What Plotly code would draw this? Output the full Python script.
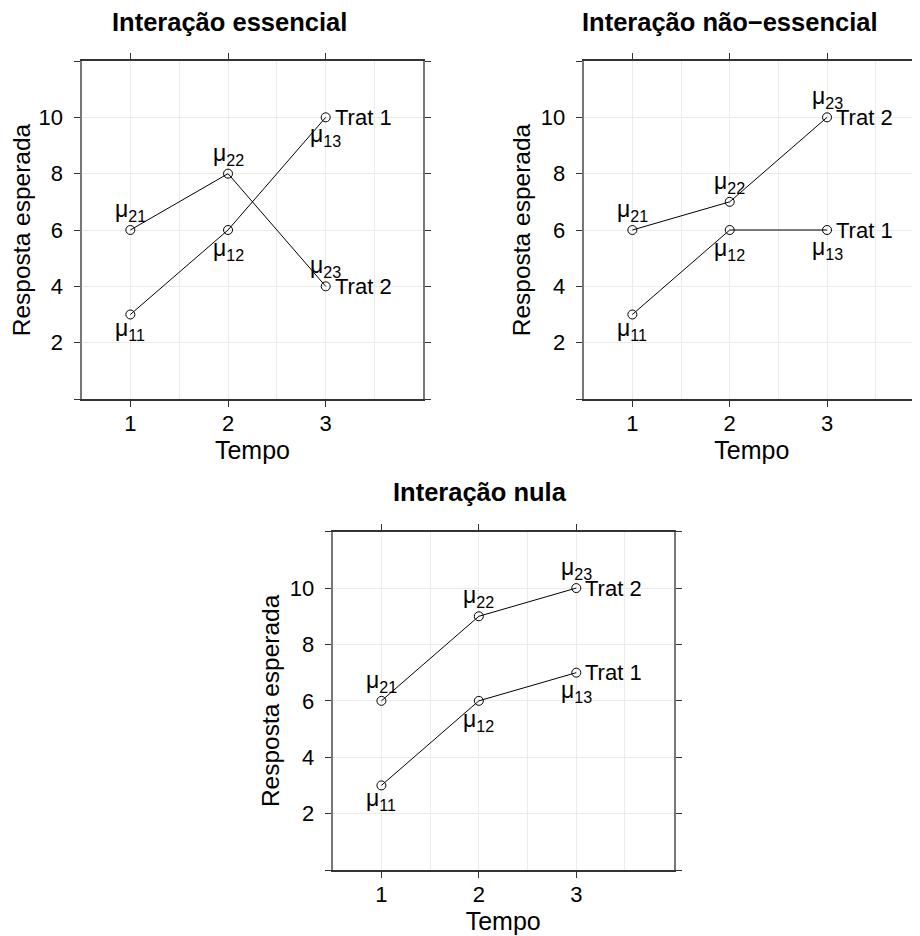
import plotly.graph_objects as go

OFF = 8            # the page body adds an 8px margin
W, H = 920 - OFF, 936 - OFF

tempo = [1, 2, 3]
panel_titles = ["Interação essencial", "Interação não−essencial", "Interação nula"]
trat1_vals = [
    [3, 6, 10],   # essencial
    [3, 6, 6],    # não-essencial
    [3, 6, 7],    # nula
]
trat2_vals = [
    [6, 8, 4],
    [6, 7, 10],
    [6, 9, 10],
]
y_tickvals = [0, 2, 4, 6, 8, 10, 12]
y_ticktext = ["", "2", "4", "6", "8", "10", ""]
x_tickvals = [1, 2, 3]
x_ticktext = ["1", "2", "3"]
x_minor_grid = [1.5, 2.5, 3.5]
x_label = "Tempo"
y_label = "Resposta esperada"
trat_names = ["Trat 1", "Trat 2"]

# panel boxes in page pixels: (left, right, top, bottom), x range
boxes = [
    (81.5, 423.4, 61, 399, [0.5, 4.0]),
    (583.7, 920, 61, 399, [0.5, 3.955]),
    (332.7, 673.7, 531.7, 870, [0.5, 4.0]),
]
title_pos = [(229, 22), (730, 22), (480, 492)]
# vertical pixel shifts of the mu labels (below labels for Trat 1, above for Trat 2)
below_shift = [2, -3, -2]
above_shift = [3, 3, 3]

FONT = "Liberation Sans, Arial, Helvetica, sans-serif"
GRID = "#ebebeb"


def px_x(v):
    return (v - OFF) / W


def px_y(v):
    return 1 - (v - OFF) / H


fig = go.Figure()
annotations = []

for i in range(3):
    l, r, t, b, xr = boxes[i]
    sfx = "" if i == 0 else str(i + 1)
    xa = "x" + sfx
    ya = "y" + sfx
    for k, vals in enumerate([trat1_vals[i], trat2_vals[i]]):
        fig.add_trace(go.Scatter(
            x=tempo, y=vals, mode="lines+markers", xaxis=xa, yaxis=ya,
            line=dict(color="black", width=1),
            marker=dict(symbol="circle-open", size=9, color="black",
                        line=dict(width=1, color="black")),
            showlegend=False, hoverinfo="skip",
        ))
        for j, (tx, vy) in enumerate(zip(tempo, vals)):
            above = (k == 1)
            annotations.append(dict(
                x=tx, y=vy, xref=xa, yref=ya, showarrow=False,
                text=f"μ<sub>{k + 1}{j + 1}</sub>",
                font=dict(family=FONT, size=23, color="black"),
                xanchor="center", yanchor="bottom" if above else "top",
                yshift=above_shift[j] if above else below_shift[j],
            ))
        annotations.append(dict(
            x=tempo[-1], y=vals[-1], xref=xa, yref=ya, showarrow=False,
            text=trat_names[k], font=dict(family=FONT, size=22, color="black"),
            xanchor="left", yanchor="middle", xshift=7,
        ))
    # title
    tx, ty = title_pos[i]
    annotations.append(dict(
        x=px_x(tx), y=px_y(ty), xref="paper", yref="paper", showarrow=False,
        text=f"<b>{panel_titles[i]}</b>",
        font=dict(family=FONT, size=25.5, color="black"),
        xanchor="center", yanchor="middle",
    ))

    xaxis = dict(
        domain=[px_x(l), min(px_x(r), 1.0)], range=xr, anchor=ya,
        tickmode="array", tickvals=x_tickvals, ticktext=x_ticktext,
        ticks="outside", ticklen=6, tickwidth=1, tickcolor="#333333",
        showline=True, linecolor="#333333", linewidth=1.5, mirror="ticks",
        showgrid=True, gridcolor=GRID, gridwidth=1, zeroline=False,
        minor=dict(tickvals=x_minor_grid, showgrid=True, gridcolor=GRID,
                   gridwidth=1, ticks=""),
        tickfont=dict(family=FONT, size=22, color="black"),
        title=dict(text=x_label, font=dict(family=FONT, size=25, color="black"),
                   standoff=4),
        automargin=False, ticklabelstandoff=-2, fixedrange=True,
    )
    yaxis = dict(
        domain=[px_y(b), px_y(t)], range=[0, 12], anchor=xa,
        tickmode="array", tickvals=y_tickvals, ticktext=y_ticktext,
        ticks="outside", ticklen=6, tickwidth=1, tickcolor="#333333",
        showline=True, linecolor="#777777", linewidth=2,
        mirror="ticks" if i != 1 else False,
        showgrid=True, gridcolor=GRID, gridwidth=1, zeroline=False,
        tickfont=dict(family=FONT, size=22, color="black"),
        title=dict(text=y_label, font=dict(family=FONT, size=24.5, color="black"),
                   standoff=3),
        automargin=False, ticklabelstandoff=6, fixedrange=True,
    )
    fig.layout["xaxis" + sfx] = xaxis
    fig.layout["yaxis" + sfx] = yaxis

fig.update_layout(
    template="none",
    width=W, height=H, margin=dict(l=0, r=0, t=0, b=0),
    paper_bgcolor="white", plot_bgcolor="white",
    annotations=annotations, showlegend=False,
)
fig.write_html("out.html")
